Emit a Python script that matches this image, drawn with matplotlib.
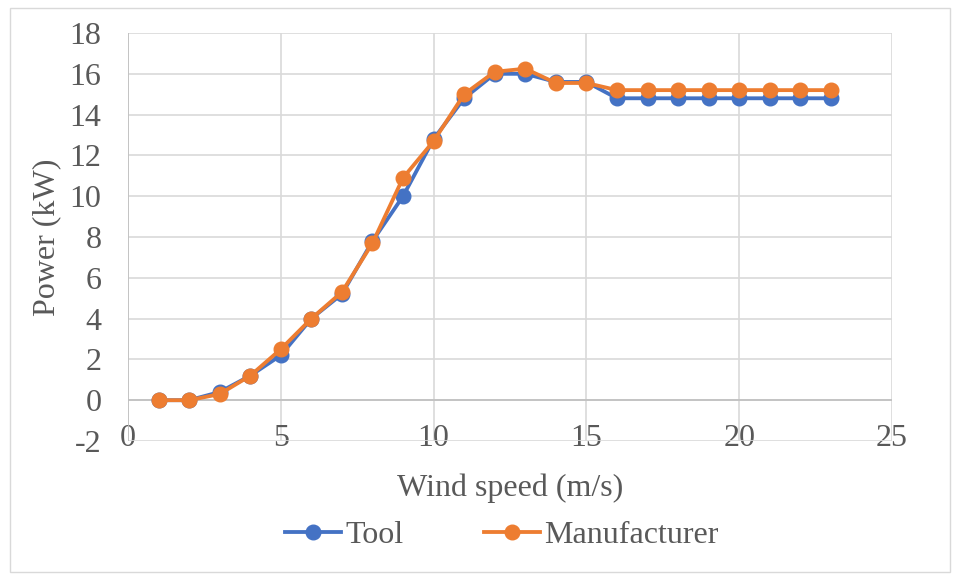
import matplotlib.pyplot as plt
from matplotlib.patches import Rectangle

# wind speed (m/s) and power output (kW)
wind_speed = [1, 2, 3, 4, 5, 6, 7, 8, 9, 10, 11, 12, 13, 14, 15, 16, 17, 18, 19, 20, 21, 22, 23]
tool_power = [0.0, 0.0, 0.4, 1.2, 2.2, 4.0, 5.2, 7.8, 10.0, 12.8, 14.8, 16.0, 16.0, 15.6, 15.6,
              14.8, 14.8, 14.8, 14.8, 14.8, 14.8, 14.8, 14.8]
manuf_power = [0.0, 0.0, 0.3, 1.2, 2.5, 4.0, 5.3, 7.7, 10.9, 12.7, 15.0, 16.1, 16.25, 15.55, 15.55,
               15.2, 15.2, 15.2, 15.2, 15.2, 15.2, 15.2, 15.2]

x_ticks = [0, 5, 10, 15, 20, 25]
y_ticks = [-2, 0, 2, 4, 6, 8, 10, 12, 14, 16, 18]

plt.rcParams['font.family'] = ['Liberation Serif', 'DejaVu Serif']
plt.rcParams['axes.unicode_minus'] = False
FS = 23
TXT = '#595959'

fig = plt.figure(figsize=(9.6, 5.8), dpi=100)
ax = fig.add_axes([128 / 960, 1 - 441 / 580, (892 - 128) / 960, (441 - 33) / 580])

# outer chart border
fig.patches.append(Rectangle((10 / 960, 8 / 580), 940 / 960, 564 / 580,
                             transform=fig.transFigure, fill=False,
                             edgecolor='#D9D9D9', lw=1))

ax.plot(wind_speed, tool_power, color='#4472C4', lw=2.75, marker='o', ms=10.5,
        label='Tool', zorder=3)
ax.plot(wind_speed, manuf_power, color='#ED7D31', lw=2.75, marker='o', ms=10.5,
        label='Manufacturer', zorder=4)

ax.set_xlim(0, 25)
ax.set_ylim(-2, 18)
ax.set_xticks(x_ticks)
ax.set_yticks(y_ticks)
ax.grid(True, color='#D9D9D9', lw=1.2)
ax.axhline(0, color='#BFBFBF', lw=1.2, zorder=1)
ax.axvline(0, color='#BFBFBF', lw=1.2, zorder=1)
ax.set_axisbelow(True)
for s in ax.spines.values():
    s.set_visible(False)
ax.tick_params(length=0, labelsize=FS, colors=TXT)
ax.tick_params(axis='y', pad=19)
ax.tick_params(axis='x', pad=-2)
for lbl in ax.get_xticklabels():
    lbl.set_va('center')

ax.set_xlabel('Wind speed (m/s)', fontsize=FS, color=TXT, va='center')
ax.xaxis.set_label_coords(0.5, (441 - 488) / 408)
ax.set_ylabel('Power (kW)', fontsize=FS, color=TXT, va='center')
ax.yaxis.set_label_coords((47 - 128) / 764, 0.5)

leg = fig.legend(loc='center', bbox_to_anchor=(502 / 960, 1 - 535 / 580), ncol=2,
                 frameon=False, fontsize=FS, handlelength=1.75, columnspacing=2.5,
                 handletextpad=0.15)
for t in leg.get_texts():
    t.set_color(TXT)

fig.savefig('out.png', dpi=100)
